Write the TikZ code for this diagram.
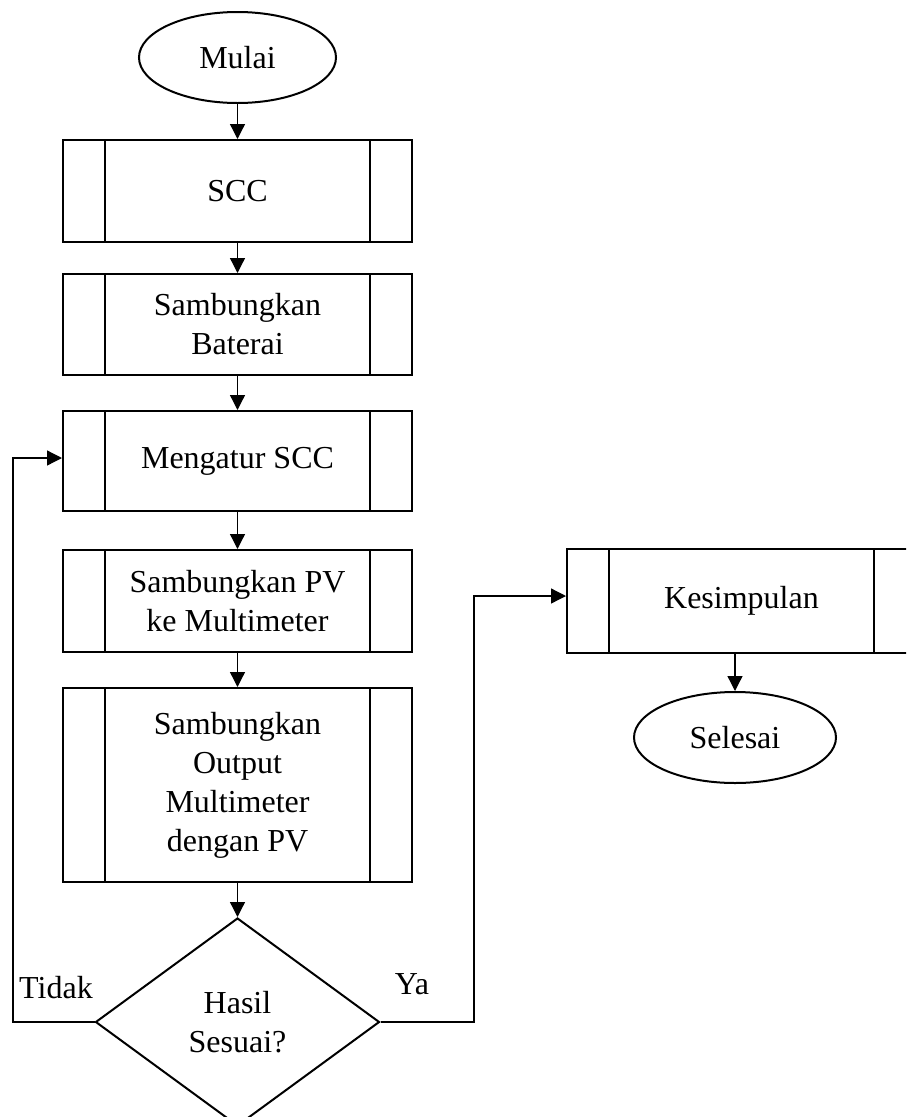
\documentclass[tikz,border=0pt]{standalone}
\usepackage{fontspec}
\setmainfont{Liberation Serif}
\usetikzlibrary{shapes.geometric,arrows.meta,calc}
\begin{document}
\begin{tikzpicture}[x=1pt,y=-1pt,
  every node/.style={font=\fontsize{32}{39}\selectfont},
  proc/.style={draw,line width=2pt,minimum width=349pt,align=center,inner sep=0pt},
  term/.style={draw,ellipse,line width=2pt,inner sep=0pt},
  decis/.style={draw,diamond,line width=2pt,inner sep=0pt,minimum width=284pt,minimum height=208pt,align=center},
  conn/.style={line width=1.3pt,-{Triangle[length=15pt,width=15pt]}},
  lbl/.style={inner sep=0pt}
]
\useasboundingbox (0,0) rectangle (906,1117);
\clip (0,0) rectangle (906,1117);
\node[term,minimum width=197pt,minimum height=91pt] (start) at (237.5,57.5) {Mulai};
\node[proc,minimum height=102pt] (scc) at (237.5,191) {SCC};
\node[proc,minimum height=101pt] (bat) at (237.5,324.5) {Sambungkan\\Baterai};
\node[proc,minimum height=100pt] (atur) at (237.5,461) {Mengatur SCC};
\node[proc,minimum height=102pt] (pv) at (237.5,601) {Sambungkan PV\\ke Multimeter};
\node[proc,minimum height=194pt] (out) at (237.5,785) {Sambungkan\\Output\\Multimeter\\dengan PV};
\node[decis] (cek) at (237.5,1022) {Hasil\\Sesuai?};
\node[proc,minimum height=104pt] (kes) at (741.5,601) {Kesimpulan};
\node[term,minimum width=202pt,minimum height=91pt] (end) at (735,737.5) {Selesai};
\foreach \n in {scc,bat,atur,pv,out,kes} {
  \draw[line width=2pt] ([xshift=43pt]\n.north west) -- ([xshift=43pt]\n.south west);
  \draw[line width=2pt] ([xshift=-43pt]\n.north east) -- ([xshift=-43pt]\n.south east);
}
\node[lbl] (tidak) at (56,988) {Tidak};
\node[lbl] (ya) at (412,984) {Ya};
\coordinate (lp) at (13,1022);
\coordinate (rp) at (474,1022);
\draw[conn] (start) -- (scc);
\draw[conn] (scc) -- (bat);
\draw[conn] (bat) -- (atur);
\draw[conn] (atur) -- (pv);
\draw[conn] (pv) -- (out);
\draw[conn] (out) -- (cek);
\draw[conn] (cek.west) -- (lp) |- ([yshift=3pt]atur.west);
\draw[conn] (cek.east) -- (rp) |- ([yshift=5pt]kes.west);
\draw[conn] (end.north |- kes.south) -- (end.north);
\end{tikzpicture}
\end{document}
